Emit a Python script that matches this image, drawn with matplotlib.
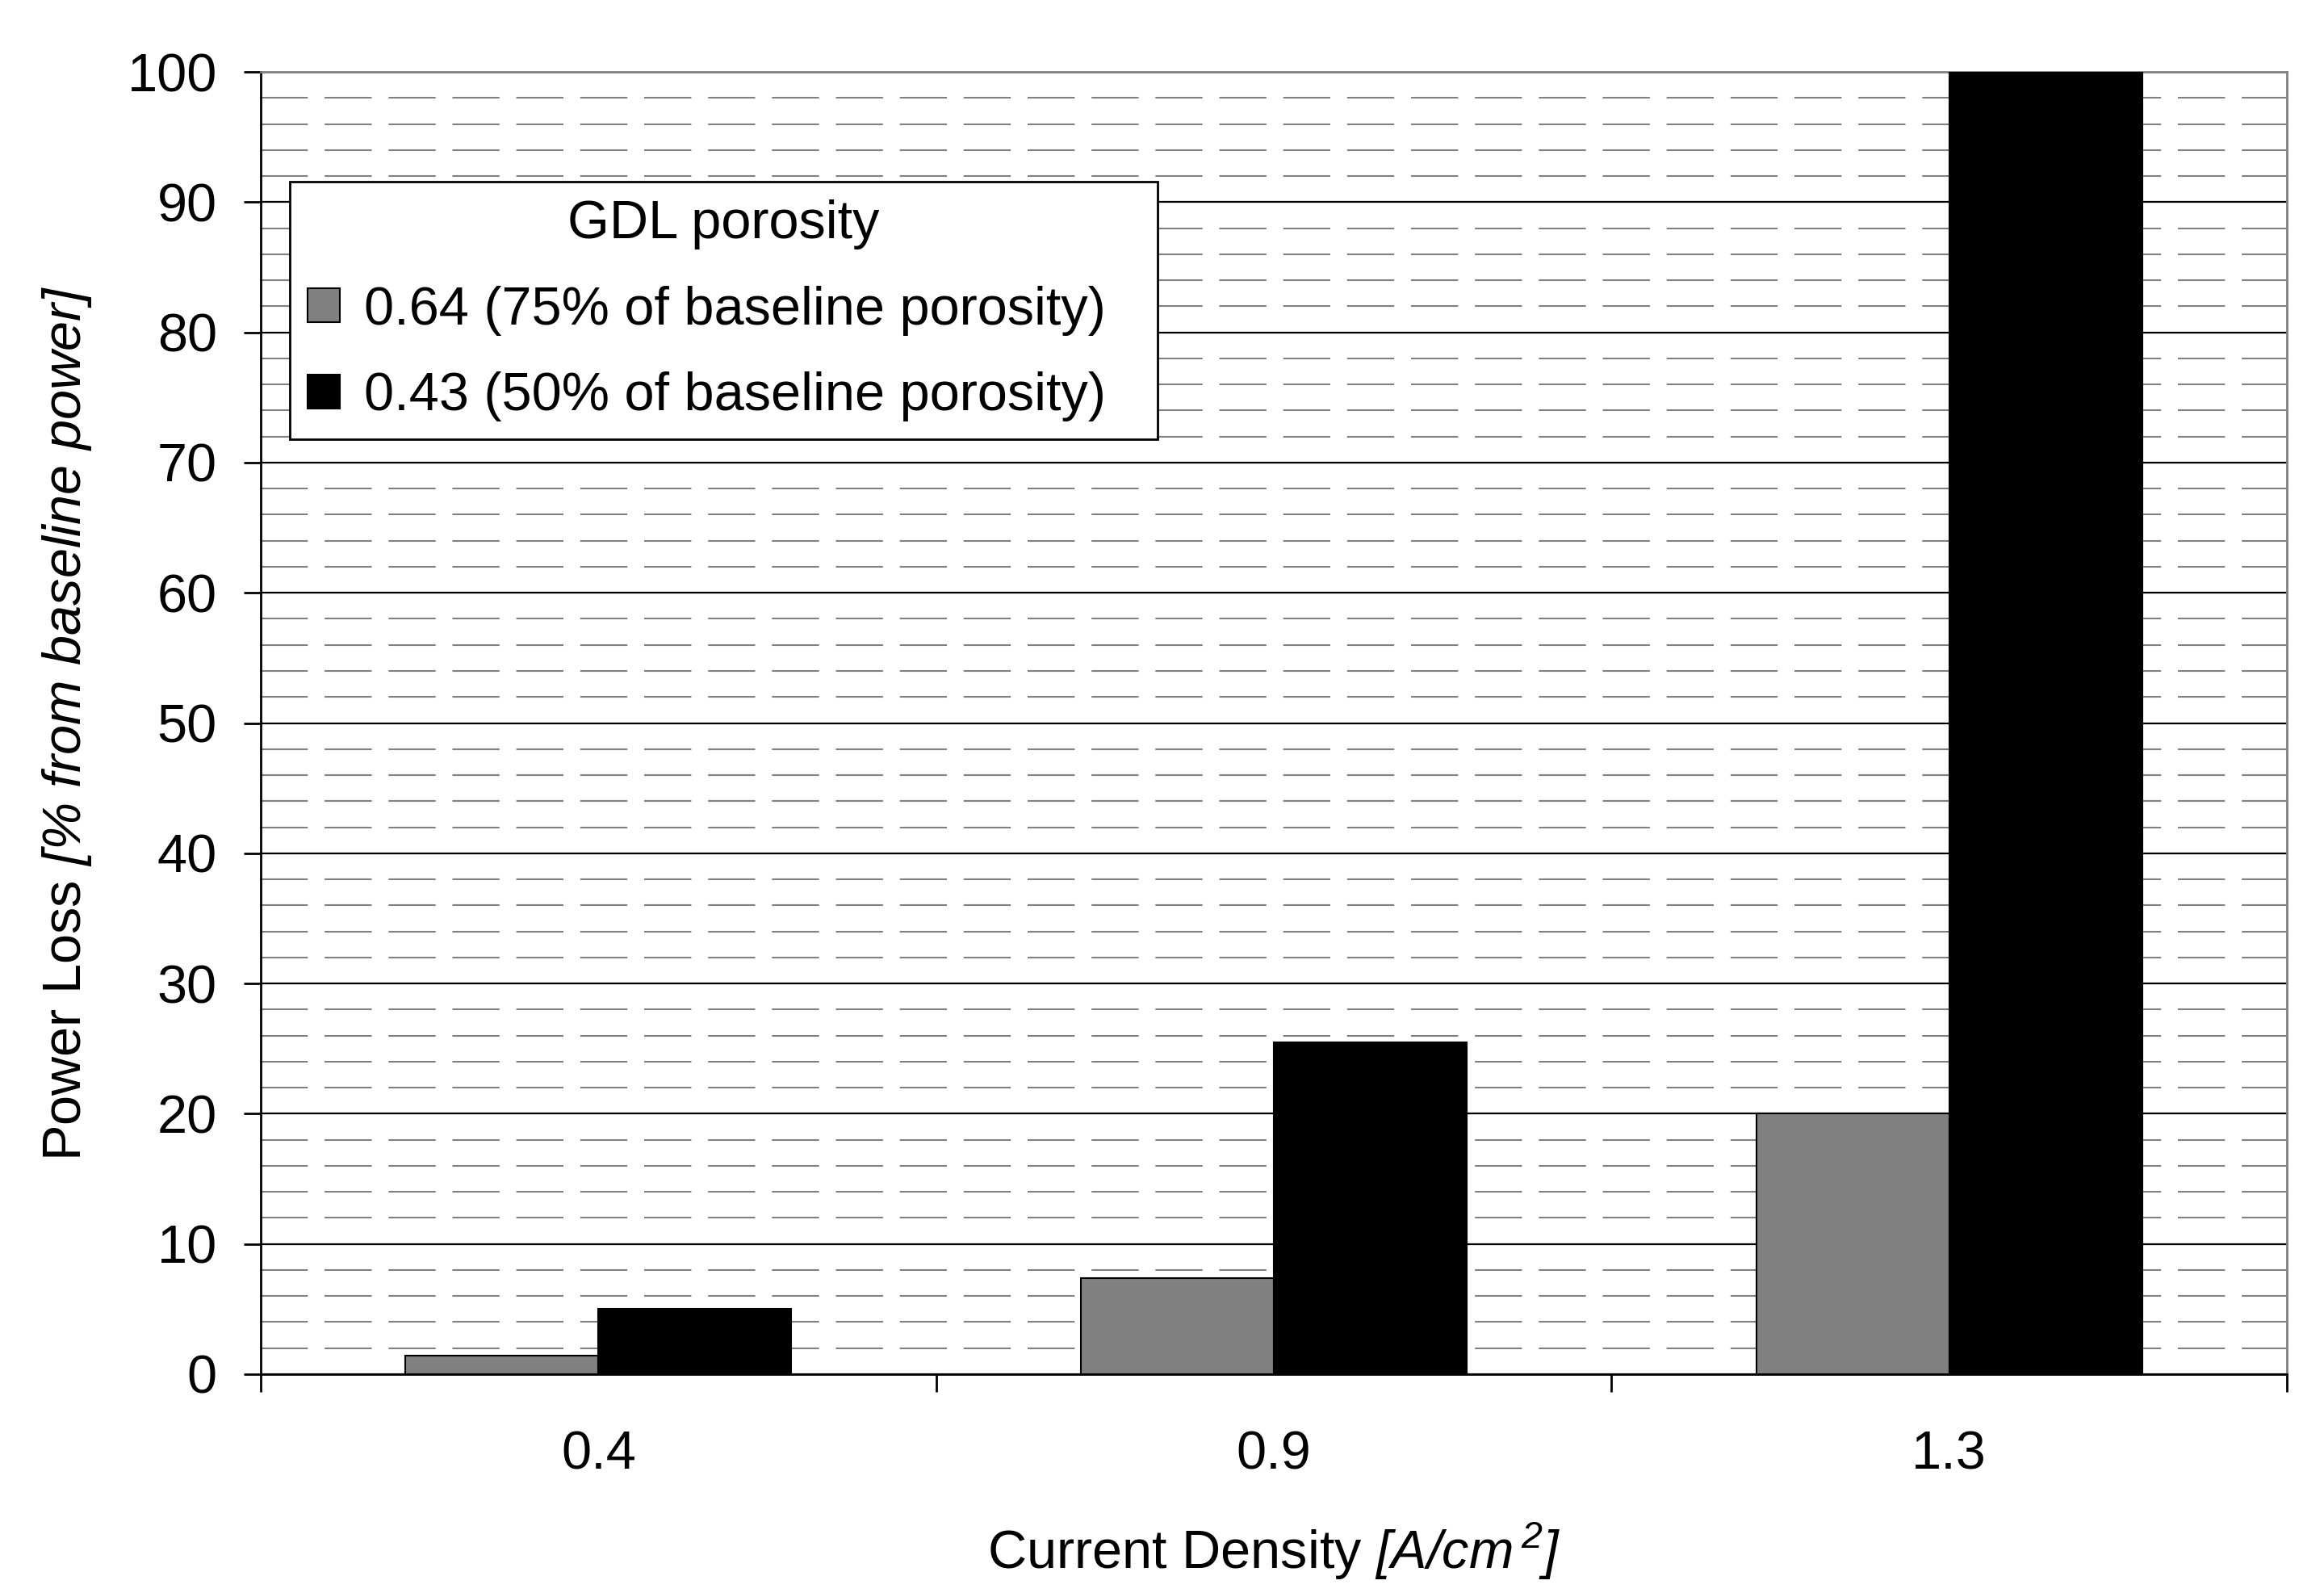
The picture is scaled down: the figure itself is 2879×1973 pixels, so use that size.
import numpy as np
import matplotlib
matplotlib.use("Agg")
import matplotlib.pyplot as plt
from matplotlib.ticker import MultipleLocator, FixedLocator, NullFormatter


# Data
current_density = ["0.4", "0.9", "1.3"]
porosity_labels = ["0.64 (75% of baseline porosity)", "0.43 (50% of baseline porosity)"]
loss_064 = [1.4, 7.4, 20.0]
loss_043 = [5.0, 25.5, 100.0]
bar_colors = ["#808080", "#000000"]


plt.rcParams["font.family"] = ["Liberation Sans", "DejaVu Sans"]
# everything inside $...$ is drawn italic (brackets included)
plt.rcParams["mathtext.fontset"] = "custom"
plt.rcParams["mathtext.rm"] = "Liberation Sans:italic"
plt.rcParams["mathtext.it"] = "Liberation Sans:italic"

fs = 48

fig = plt.figure(figsize=(28.79, 19.73), dpi=100)
ax = fig.add_axes([323 / 2879, 1 - 1702 / 1973, (2833 - 323) / 2879, (1702 - 89) / 1973])

x = np.arange(len(current_density))
width = 1 / 3.5

ax.bar(x - width / 2, loss_064, width, color=bar_colors[0], edgecolor="black",
       linewidth=1.5, label=porosity_labels[0], zorder=3)
ax.bar(x + width / 2, loss_043, width, color=bar_colors[1], edgecolor="black",
       linewidth=1.5, label=porosity_labels[1], zorder=3)

ax.set_xlim(-0.5, 2.5)
ax.set_ylim(0, 100)

# y axis
ax.yaxis.set_major_locator(MultipleLocator(10))
ax.yaxis.set_minor_locator(MultipleLocator(2))
ax.tick_params(axis="y", which="major", length=15, width=2, pad=24, labelsize=fs, direction="out")
ax.tick_params(axis="y", which="minor", length=0)

# x axis: ticks between categories, labels at centres
ax.xaxis.set_major_locator(FixedLocator([-0.5, 0.5, 1.5, 2.5]))
ax.xaxis.set_major_formatter(NullFormatter())
ax.xaxis.set_minor_locator(FixedLocator(x))
ax.set_xticklabels(current_density, minor=True)
ax.tick_params(axis="x", which="major", length=16, width=2, direction="out")
ax.tick_params(axis="x", which="minor", length=0, pad=50, labelsize=fs)

# grid
ax.set_axisbelow(True)
ax.grid(axis="y", which="major", color="black", linewidth=1.6)
ax.grid(axis="y", which="minor", color="#808080", linewidth=1.5, dashes=(28, 10))

for side in ["left", "bottom"]:
    ax.spines[side].set_color("black")
    ax.spines[side].set_linewidth(2)
for side in ["top", "right"]:
    ax.spines[side].set_color("#808080")
    ax.spines[side].set_linewidth(2)

ax.set_ylabel(r"Power Loss $[\%\ from\ baseline\ power]$", fontsize=fs, labelpad=30)
ax.set_xlabel(r"Current Density $[A/cm^{\,2}]$", fontsize=fs, labelpad=36)

# legend box spans a fixed width, content left aligned
leg = ax.legend(title="GDL porosity", loc="upper left",
                bbox_to_anchor=(0.0143, 0.9157 - 0.2, 0.4283, 0.2), mode="expand",
                borderaxespad=0, fontsize=fs, title_fontsize=fs, fancybox=False,
                edgecolor="black", framealpha=1, handlelength=0.6, handleheight=0.6,
                handletextpad=0.45, labelspacing=0.67, borderpad=0.33)
leg.get_frame().set_linewidth(2)

plt.savefig("out.png", dpi=100)
